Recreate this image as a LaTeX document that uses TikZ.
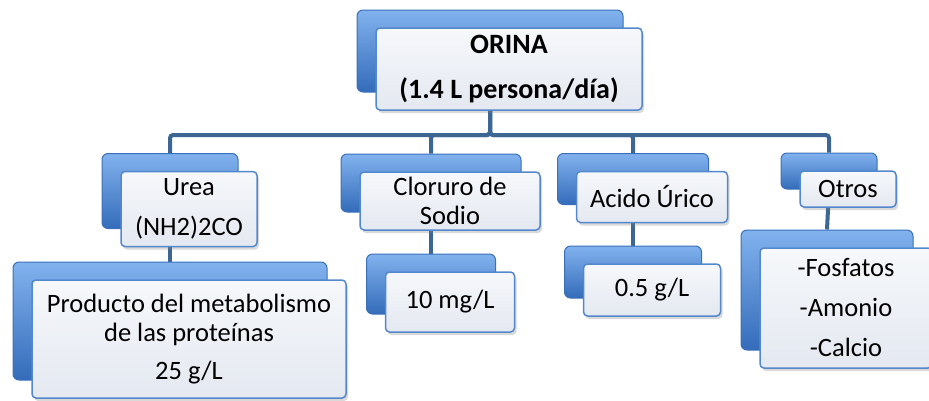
\documentclass[tikz,border=0pt]{standalone}
\usepackage{fontspec}
\setmainfont{Carlito}
\usetikzlibrary{calc,shadows,backgrounds}

\definecolor{tabtop}{RGB}{130,178,238}
\definecolor{tabmid}{RGB}{72,132,212}
\definecolor{tabbot}{RGB}{52,108,186}
\definecolor{tabline}{RGB}{58,112,185}
\definecolor{cardline}{RGB}{84,136,205}
\definecolor{cardtop}{RGB}{246,248,251}
\definecolor{cardbot}{RGB}{228,232,240}
\definecolor{linkcol}{RGB}{60,103,149}

\begin{document}
\begin{tikzpicture}[x=1pt, y=-1pt,
  tab/.style 2 args={rounded corners=6pt, draw=tabline, line width=1pt,
    top color=tabtop, middle color=tabmid, bottom color=tabbot,
    minimum width=#1, minimum height=#2, inner sep=0pt},
  card/.style 2 args={rounded corners=4pt, draw=cardline, line width=1.5pt,
    top color=cardtop, bottom color=cardbot,
    minimum width=#1, minimum height=#2, inner sep=0pt, align=center,
    font=\fontsize{26.5}{29}\selectfont,
    drop shadow={opacity=0.3, shadow xshift=2pt, shadow yshift=-3pt}},
  link/.style={draw=linkcol, line width=4pt}]
\useasboundingbox (0,0) rectangle (929,400);

% Draw top box.
\node[tab={266pt}{82pt}] (orina-t) at (490,51) {};
\node[card={266pt}{82pt}, font=\fontsize{28}{34}\selectfont\bfseries] (orina)
  at ($(orina-t)+(19,18)$) {ORINA\\[11pt](1.4 L persona/día)};

% Draw second row.
\node[tab={136pt}{75pt}] (urea-t) at (170,191) {};
\node[card={136pt}{75pt}] (urea) at ($(urea-t)+(19,18)$) {Urea\\[11pt](NH2)2CO};
\node[tab={180pt}{58pt}] (cloruro-t) at (431,183) {};
\node[card={180pt}{58pt}] (cloruro) at ($(cloruro-t)+(19,18)$) {Cloruro de\\Sodio};
\node[tab={151pt}{51pt}] (acido-t) at (633,179) {};
\node[card={151pt}{51pt}] (acido) at ($(acido-t)+(19,18)$) {Acido Úrico};
\node[tab={96pt}{36pt}] (otros-t) at (829,171) {};
\node[card={96pt}{36pt}] (otros) at ($(otros-t)+(19,18)$) {Otros};

% Draw values.
\node[tab={314pt}{118pt}] (urea-val-t) at (170,321) {};
\node[card={314pt}{118pt}] (urea-val) at ($(urea-val-t)+(19,18)$)
  {Producto del metabolismo\\de las proteínas\\[9pt]25 g/L};
\node[tab={129pt}{60pt}] (cloruro-val-t) at (431,284) {};
\node[card={129pt}{60pt}] (cloruro-val) at ($(cloruro-val-t)+(19,18)$) {10 mg/L};
\node[tab={137pt}{52pt}] (acido-val-t) at (633,272) {};
\node[card={137pt}{52pt}] (acido-val) at ($(acido-val-t)+(19,18)$) {0.5 g/L};
\node[tab={172pt}{120pt}] (otros-val-t) at (827,290) {};
\node[card={172pt}{120pt}] (otros-val) at ($(otros-val-t)+(19,18)$)
  {-Fosfatos\\[11pt]-Amonio\\[11pt]-Calcio};

% Draw connectors.
\coordinate (bus) at (0,135);
\begin{scope}[on background layer]
\foreach \n in {urea, cloruro, acido, otros}
{
    \draw[link, rounded corners=3pt] (orina-t.south) -- (orina-t.south |- bus) -| (\n-t.north);
    \draw[link] (\n-t.south) -- (\n-val-t.north);
}
\end{scope}

\end{tikzpicture}
\end{document}
